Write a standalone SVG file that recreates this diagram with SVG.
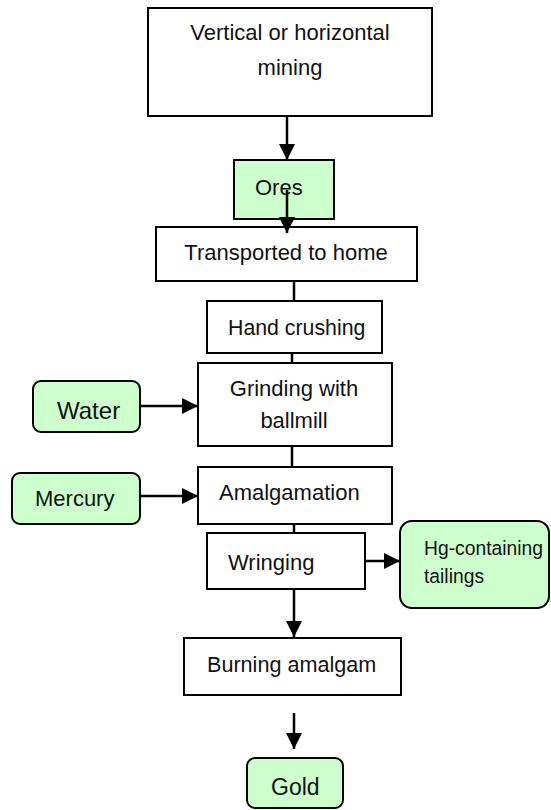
<svg xmlns="http://www.w3.org/2000/svg" width="551" height="810" viewBox="0 0 551 810">
<style>
.box{fill:#ffffff;stroke:#000;stroke-width:2}
.green{fill:#ccffcc;stroke:#000;stroke-width:2}
text{font-family:"Liberation Sans",Arial,sans-serif;font-size:22px;fill:#111}
.c{text-anchor:middle}
.con{stroke:#000;stroke-width:2.5;fill:none}
</style>
<defs>
<marker id="ah" viewBox="0 0 16 16" markerWidth="16" markerHeight="16" markerUnits="userSpaceOnUse" refX="16" refY="8" orient="auto">
<path d="M0,0 L16,8 L0,16 z" fill="#000"/>
</marker>
</defs>
<g id="mining">
<rect class="box" x="148" y="8" width="284" height="108"/>
<text class="c" x="290" y="40">Vertical or horizontal</text>
<text class="c" x="290" y="75">mining</text>
</g>
<g id="ores">
<rect class="green" x="234" y="160" width="100" height="59"/>
<text x="255" y="195" font-size="21">Ores</text>
</g>
<g id="transported">
<rect class="box" x="156" y="227" width="261" height="54"/>
<text class="c" x="286" y="260">Transported to home</text>
</g>
<g id="hand-crushing">
<rect class="box" x="207" y="301" width="175" height="52"/>
<text x="228" y="335" style="font-size:21.3px">Hand crushing</text>
</g>
<g id="grinding">
<rect class="box" x="198" y="363" width="194" height="83"/>
<text class="c" x="294" y="396">Grinding with</text>
<text class="c" x="294" y="428">ballmill</text>
</g>
<g id="water">
<rect class="green" x="33" y="381" width="107" height="51" rx="8"/>
<text x="57" y="419" style="font-size:24px">Water</text>
</g>
<g id="amalgamation">
<rect class="box" x="198" y="467" width="194" height="57"/>
<text x="219" y="500">Amalgamation</text>
</g>
<g id="mercury">
<rect class="green" x="12" y="473" width="128" height="51" rx="8"/>
<text x="35" y="506">Mercury</text>
</g>
<g id="wringing">
<rect class="box" x="207" y="533" width="158" height="56"/>
<text x="228" y="570">Wringing</text>
</g>
<g id="hg-tailings">
<rect class="green" x="400" y="521" width="149" height="87" rx="12"/>
<text x="424" y="555" style="font-size:19.3px">Hg-containing</text>
<text x="424" y="583" style="font-size:19.3px">tailings</text>
</g>
<g id="burning">
<rect class="box" x="184" y="638" width="217" height="57"/>
<text x="207" y="672" style="font-size:21.6px">Burning amalgam</text>
</g>
<g id="gold">
<rect class="green" x="247" y="758" width="96" height="50" rx="8"/>
<text x="271" y="795" style="font-size:23px">Gold</text>
</g>
<g id="connectors">
<line class="con" x1="287" y1="116" x2="287" y2="160" marker-end="url(#ah)"/>
<line class="con" x1="287" y1="190" x2="287" y2="233" marker-end="url(#ah)"/>
<line class="con" x1="294" y1="281" x2="294" y2="301"/>
<line class="con" x1="292" y1="353" x2="292" y2="363"/>
<line class="con" x1="140" y1="406" x2="198" y2="406" marker-end="url(#ah)"/>
<line class="con" x1="292" y1="446" x2="292" y2="467"/>
<line class="con" x1="140" y1="496" x2="198" y2="496" marker-end="url(#ah)"/>
<line class="con" x1="294" y1="524" x2="294" y2="533"/>
<line class="con" x1="365" y1="561" x2="400" y2="561" marker-end="url(#ah)"/>
<line class="con" x1="294" y1="589" x2="294" y2="637" marker-end="url(#ah)"/>
<line class="con" x1="294" y1="713" x2="294" y2="749" stroke-width="2" marker-end="url(#ah)"/>
</g>
</svg>
